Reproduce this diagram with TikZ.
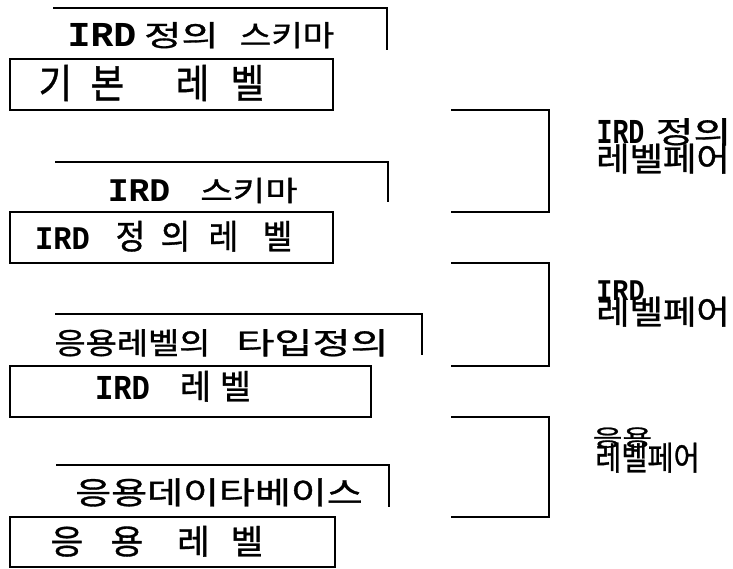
\documentclass[tikz,border=0pt]{standalone}
\usepackage{fontspec}
\usepackage{graphicx}
\newfontfamily\kr{Noto Sans CJK KR}[FakeBold=1]
\newfontfamily\mono{Liberation Mono}
% place #2 centred at horizontal offset #1 (pt) from the node start
\newcommand\cat[2]{\rlap{\hspace*{#1pt}\makebox[0pt][c]{#2}}}
% Hangul: size, x-scale, text
\newcommand\hk[3]{{\fontsize{#1pt}{#1pt}\selectfont\kr\scalebox{#2}[1]{#3}}}
% Latin: size, x-scale, text
\newcommand\ml[3]{{\fontsize{#1pt}{#1pt}\selectfont\mono\bfseries\scalebox{#2}[1]{#3}}}
\begin{document}
\begin{tikzpicture}[x=1pt,y=-1pt,line width=1.8pt,
  box/.style={draw,rectangle,inner sep=0pt,outer sep=0pt,anchor=north west},
  txt/.style={inner sep=0pt,outer sep=0pt,anchor=base west}]
\useasboundingbox (0,0) rectangle (733,568);

% ---- boxes
\node[box,minimum width=323pt,minimum height=51pt] (b1) at (10,59) {};
\node[box,minimum width=323pt,minimum height=51pt] (b2) at (10,212) {};
\node[box,minimum width=361pt,minimum height=51pt] (b3) at (10,366) {};
\node[box,minimum width=325pt,minimum height=50pt] (b4) at (10,517) {};

% ---- title frames (top and right sides)
\coordinate (t1a) at (53,8);  \coordinate (t1b) at (387,8);  \coordinate (t1c) at (387,50);
\coordinate (t2a) at (55,162); \coordinate (t2b) at (388,162); \coordinate (t2c) at (388,202);
\coordinate (t3a) at (55,314); \coordinate (t3b) at (422,314); \coordinate (t3c) at (422,355);
\coordinate (t4a) at (56,465); \coordinate (t4b) at (389,465); \coordinate (t4c) at (389,507);
\draw (t1a) -- (t1b) -- (t1c);
\draw (t2a) -- (t2b) -- (t2c);
\draw (t3a) -- (t3b) -- (t3c);
\draw (t4a) -- (t4b) -- (t4c);

% ---- right brackets between boxes
\coordinate (xL) at (451,0);
\coordinate (xR) at (549,0);
\draw (b1.south -| xL) -- (b1.south -| xR) -- (b2.north -| xR) -- (b2.north -| xL);
\draw (b2.south -| xL) -- (b2.south -| xR) -- (b3.north -| xR) -- (b3.north -| xL);
\draw (b3.south -| xL) -- (b3.south -| xR) -- (b4.north -| xR) -- (b4.north -| xL);

% ---- titles
\node[txt] (s1) at (0,46) {\cat{101.5}{\ml{35}{1.09}{IRD}}\cat{181}{\hk{29}{1.4}{정의}}\cat{286.5}{\hk{29}{1.18}{스키마}}};
\node[txt] (s2) at (0,201) {\cat{138.5}{\ml{33}{1.05}{IRD}}\cat{248.5}{\hk{28}{1.26}{스키마}}};
\node[txt] (s3) at (0,354) {\cat{132}{\hk{30}{1.13}{응용레벨의}}\cat{312}{\hk{30}{1.38}{타입정의}}};
\node[txt] (s4) at (0,504) {\cat{218.5}{\hk{31}{1.26}{응용데이타베이스}}};

% ---- box texts
\node[txt] (l1) at (0,98) {\cat{55}{\hk{40}{0.92}{기}}\cat{107}{\hk{40}{0.92}{본}}\cat{192}{\hk{40}{0.92}{레}}\cat{247}{\hk{40}{0.92}{벨}}};
\node[txt] (l2) at (0,249) {\cat{62}{\ml{33}{0.92}{IRD}}\cat{130}{\hk{34}{0.95}{정}}\cat{175}{\hk{34}{0.95}{의}}\cat{223}{\hk{34}{0.95}{레}}\cat{277}{\hk{34}{0.95}{벨}}};
\node[txt] (l3) at (0,399) {\cat{122}{\ml{35}{0.87}{IRD}}\cat{195}{\hk{34}{1}{레}}\cat{235}{\hk{34}{1}{벨}}};
\node[txt] (l4) at (0,554) {\cat{66.5}{\hk{34}{1.05}{응}}\cat{126.5}{\hk{34}{1.05}{용}}\cat{193}{\hk{34}{1.05}{레}}\cat{246.5}{\hk{34}{1.05}{벨}}};

% ---- right labels
\node[txt] (r1a) at (0,143) {\cat{620}{\ml{35}{0.76}{IRD}}\cat{693}{\hk{30}{1.37}{정의}}};
\node[txt] (r1b) at (0,171) {\cat{662.5}{\hk{33}{1.1}{레벨페어}}};
\node[txt] (r2a) at (0,300) {\cat{620}{\ml{30}{0.89}{IRD}}};
\node[txt] (r2b) at (0,324) {\cat{662.5}{\hk{33}{1.1}{레벨페어}}};
\node[txt] (r3a) at (0,446) {\cat{622}{\hk{23}{1.4}{응용}}};
\node[txt] (r3b) at (0,470) {\cat{647}{\hk{33}{0.86}{레벨페어}}};
\end{tikzpicture}
\end{document}
